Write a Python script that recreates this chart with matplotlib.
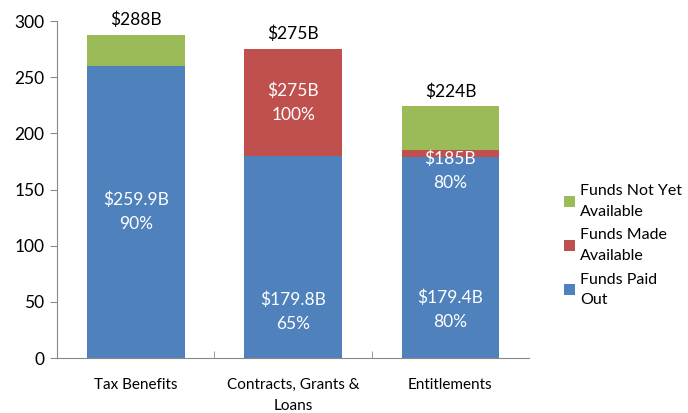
import matplotlib.pyplot as plt
import numpy as np

plt.rcParams["font.family"] = ["Lato", "DejaVu Sans"]

categories = ["Tax Benefits", "Contracts, Grants &\nLoans", "Entitlements"]
paid_out = [259.9, 179.8, 179.4]
made_available = [0.0, 95.2, 5.6]
not_yet = [28.1, 0.0, 39.0]
totals = ["$288B", "$275B", "$224B"]

# inner labels: (text, y in data units)
inner_labels = [
    [("$259.9B\n90%", 130)],
    [("$179.8B\n65%", 41), ("$275B\n100%", 227)],
    [("$179.4B\n80%", 43), ("$185B\n80%", 167)],
]

blue = "#4F81BD"
red = "#C0504D"
green = "#9BBB59"

fig = plt.figure(figsize=(6.88, 4.13), dpi=100)
ax = fig.add_axes([0.083, 0.133, 0.686, 0.816])

x = np.arange(len(categories))
w = 0.62
paid = np.array(paid_out)
made = np.array(made_available)
nyet = np.array(not_yet)

ax.bar(x, paid, w, color=blue, label="Funds Paid\nOut")
ax.bar(x, made, w, bottom=paid, color=red, label="Funds Made\nAvailable")
ax.bar(x, nyet, w, bottom=paid + made, color=green, label="Funds Not Yet\nAvailable")

tops = paid + made + nyet
for i, t in enumerate(totals):
    ax.text(x[i], tops[i] + 6, t, ha="center", va="bottom", fontsize=12.5, color="black")
for i, labels in enumerate(inner_labels):
    for txt, yv in labels:
        ax.text(x[i], yv, txt, ha="center", va="center", fontsize=12.5,
                color="white", linespacing=1.6)

ax.set_xlim(-0.5, 2.5)
ax.set_ylim(0, 300)
ax.set_yticks(range(0, 301, 50))
ax.set_xticks(x)
ax.set_xticklabels(categories, fontsize=11, linespacing=1.7, va="top")
ax.set_xticks([0.5, 1.5], minor=True)
ax.tick_params(axis="x", which="major", length=0, pad=14)
ax.tick_params(axis="x", which="minor", length=5, color="#888888", direction="in")
ax.tick_params(axis="y", labelsize=12.5, length=5, color="#888888", pad=4)

for s in ["top", "right"]:
    ax.spines[s].set_visible(False)
for s in ["left", "bottom"]:
    ax.spines[s].set_color("#888888")

handles, labels = ax.get_legend_handles_labels()
leg = fig.legend(handles[::-1], labels[::-1], loc="center left",
                 bbox_to_anchor=(0.81, 0.405), frameon=False, fontsize=11.5,
                 handlelength=0.7, handleheight=0.7, handletextpad=0.35,
                 labelspacing=0.6, borderaxespad=0.0)
for t in leg.get_texts():
    t.set_linespacing(1.6)

fig.savefig("out.png", dpi=100)
